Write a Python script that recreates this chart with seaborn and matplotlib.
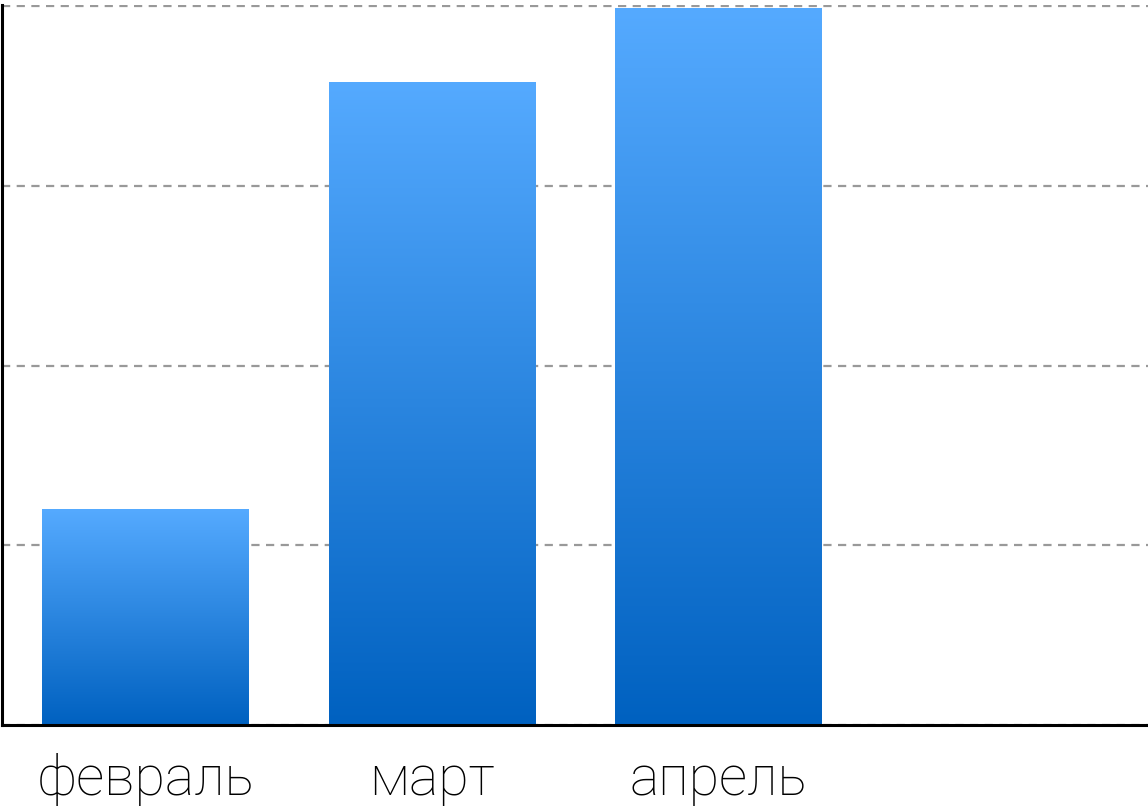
import numpy as np
import pandas as pd
import matplotlib
matplotlib.use("Agg")
import matplotlib.pyplot as plt
import seaborn as sns
from matplotlib.colors import LinearSegmentedColormap

categories = ["февраль", "март", "апрель"]
values = [30, 89.5, 99.7]
grid_ticks = [0, 25, 50, 75, 100]

sns.set_style("white")
plt.rcParams['font.family'] = ['Roboto', 'DejaVu Sans']

fig = plt.figure(figsize=(11.48, 8.10), dpi=100)
ax = fig.add_axes([2/1148, 85/810, 1 - 2/1148, (725 - 5)/810])

df = pd.DataFrame({"month": categories, "value": values})
sns.barplot(data=df, x="month", y="value", order=categories, width=0.72,
            color="#2a8ae6", ax=ax, zorder=2)

cmap = LinearSegmentedColormap.from_list("g", ["#0061c0", "#55aaff"])
grad = np.linspace(0, 1, 256).reshape(-1, 1)
for p in list(ax.patches):
    x0, y0 = p.get_x(), p.get_y()
    w, h = p.get_width(), p.get_height()
    im = ax.imshow(grad, cmap=cmap, origin="lower", aspect="auto",
                   extent=[x0, x0 + w, y0, y0 + h], zorder=2, interpolation="bilinear")
    im.set_clip_path(p)
    p.set_facecolor("none")
    p.set_edgecolor("none")

ax.set_xlim(-0.5, 3.5)
ax.set_ylim(0, 100.15)
ax.set_yticks(grid_ticks)
ax.set_yticklabels([])
ax.tick_params(axis="y", length=0)
ax.tick_params(axis="x", length=0, pad=20, labelsize=40, labelcolor="black")
for lab in ax.get_xticklabels():
    lab.set_fontweight("light")
    lab.set_color("black")
ax.set_xlabel("")
ax.set_ylabel("")
ax.set_axisbelow(True)
ax.yaxis.grid(True, color="#999999", linestyle=(0, (3.7, 2.9)), linewidth=1.6)
ax.xaxis.grid(False)
for s in ["top", "right"]:
    ax.spines[s].set_visible(False)
for s in ["left", "bottom"]:
    ax.spines[s].set_color("black")
    ax.spines[s].set_linewidth(2.2)
    ax.spines[s].set_zorder(3)

fig.savefig("out.png", dpi=100)
